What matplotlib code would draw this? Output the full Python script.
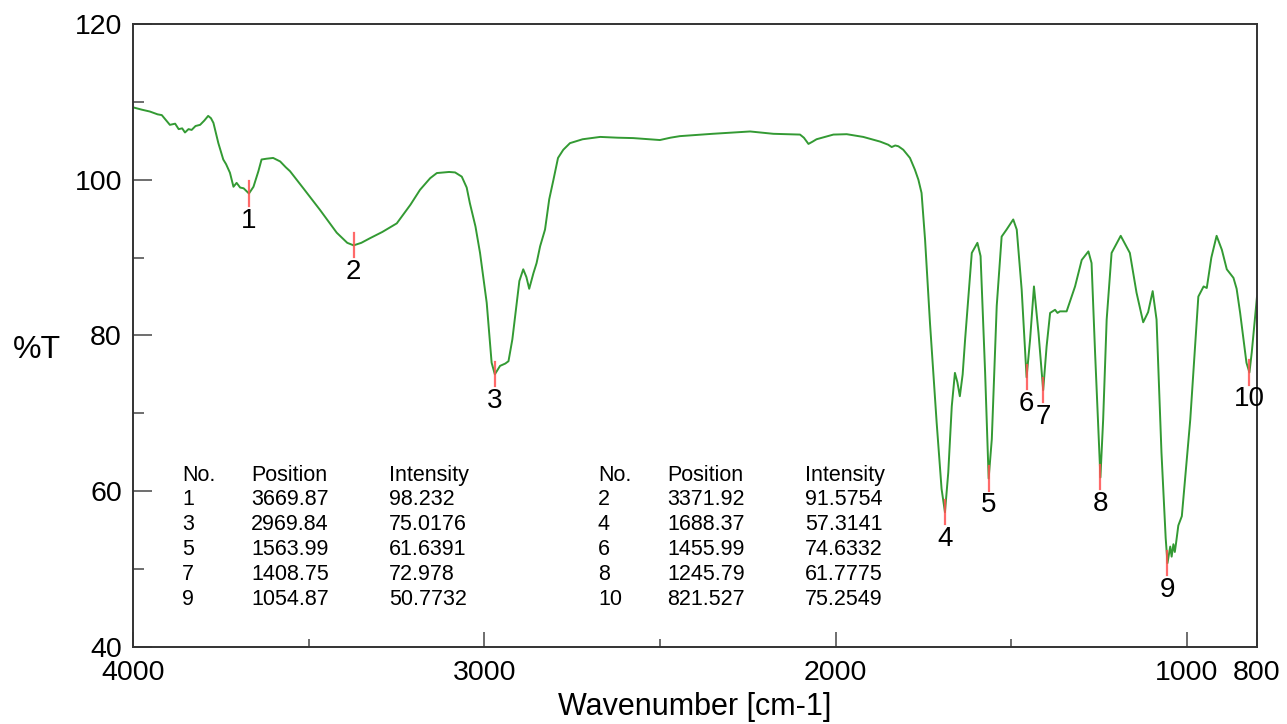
import numpy as np
import matplotlib
matplotlib.use('Agg')
import matplotlib.pyplot as plt
from matplotlib.ticker import MultipleLocator

plt.rcParams['font.family'] = ['Liberation Sans', 'DejaVu Sans']

# spectrum (wavenumber cm-1, %T)
wavenumber = [4000, 3975, 3952, 3930, 3918, 3905, 3895, 3880, 3870, 3860, 3852, 3842, 3833,
              3822, 3809, 3797, 3786, 3778, 3771, 3757, 3743, 3735, 3724, 3714, 3705, 3695,
              3685, 3669.87, 3657, 3643, 3634, 3620, 3601, 3581, 3565, 3553, 3515, 3468,
              3420, 3390, 3371.92, 3350, 3325, 3290, 3249, 3210, 3183, 3154, 3135, 3100,
              3083, 3064, 3050, 3041, 3025, 3012, 2993, 2979, 2969.84, 2955, 2940, 2931,
              2920, 2912, 2900, 2889, 2880, 2872, 2860, 2851, 2841, 2827, 2815, 2803, 2790,
              2775, 2756, 2720, 2670, 2620, 2576, 2530, 2500, 2470, 2443, 2350, 2243, 2177,
              2101, 2090, 2077, 2065, 2054, 2006, 1968, 1921, 1873, 1850, 1840, 1830, 1821,
              1807, 1788, 1774, 1764, 1755, 1745, 1731, 1712, 1698, 1688.37, 1679, 1669,
              1660, 1653, 1646, 1638, 1631, 1612, 1596, 1587, 1574, 1563.99, 1555, 1541,
              1527, 1513, 1494, 1484, 1470, 1455.99, 1446, 1435, 1422, 1408.75, 1399, 1389,
              1375, 1368, 1361, 1342, 1318, 1299, 1280, 1271, 1261, 1245.79, 1238, 1228,
              1214, 1188, 1162, 1143, 1124, 1110, 1097, 1086, 1072, 1060, 1054.87, 1051,
              1047, 1043, 1038, 1034, 1030, 1024, 1014, 990, 967, 952, 943, 930, 915, 900,
              886, 867, 858, 848, 830, 821.527, 815, 800]
transmittance = [109.3, 109.0, 108.76, 108.4, 108.3, 107.6, 107.05, 107.2, 106.5, 106.6, 106.07,
                 106.5, 106.4, 106.9, 107.05, 107.6, 108.2, 107.9, 107.3, 104.7, 102.6, 102.0,
                 100.9, 99.1, 99.6, 99.0, 98.9, 98.232, 99.1, 101.1, 102.6, 102.7, 102.8, 102.35,
                 101.6, 101.1, 98.9, 96.15, 93.2, 91.9, 91.5754, 91.9, 92.5, 93.3, 94.4, 96.8,
                 98.7, 100.2, 100.86, 101.0, 100.94, 100.4, 99.0, 97.0, 94.0, 90.6, 84.2, 76.5,
                 75.0176, 76.1, 76.4, 76.7, 79.5, 82.5, 87.0, 88.5, 87.5, 86.0, 88.0, 89.3,
                 91.45, 93.6, 97.5, 100.0, 102.8, 103.85, 104.7, 105.2, 105.5, 105.4, 105.35,
                 105.2, 105.1, 105.4, 105.6, 105.9, 106.2, 105.9, 105.8, 105.4, 104.6, 104.9,
                 105.2, 105.8, 105.85, 105.5, 104.9, 104.5, 104.2, 104.4, 104.3, 103.85, 102.8,
                 101.3, 100.0, 98.3, 92.3, 81.6, 68.8, 60.3, 57.3141, 62.4, 70.9, 75.2, 74.0,
                 72.2, 75.0, 79.5, 90.6, 91.9, 90.2, 75.2, 61.6391, 66.7, 83.8, 92.7, 93.6,
                 94.9, 93.6, 85.9, 74.6332, 79.5, 86.3, 80.3, 72.978, 78.6, 82.9, 83.3, 82.9,
                 83.1, 83.1, 86.3, 89.7, 90.8, 89.3, 77.8, 61.7775, 69.2, 82.05, 90.6, 92.8,
                 90.6, 85.5, 81.7, 83.0, 85.7, 82.05, 65.0, 54.0, 50.7732, 51.8, 52.9, 51.6,
                 53.2, 52.2, 53.5, 55.6, 56.8, 69.2, 85.0, 86.3, 86.1, 90.0, 92.8, 91.0, 88.5,
                 87.4, 86.0, 82.9, 76.5, 75.2549, 77.8, 85.0]

# peak table
peak_no = [1, 2, 3, 4, 5, 6, 7, 8, 9, 10]
peak_pos = [3669.87, 3371.92, 2969.84, 1688.37, 1563.99, 1455.99, 1408.75, 1245.79, 1054.87, 821.527]
peak_int = [98.232, 91.5754, 75.0176, 57.3141, 61.6391, 74.6332, 72.978, 61.7775, 50.7732, 75.2549]


def drawSpectrum():
	fig = plt.figure(figsize=(12.87, 7.24), dpi=100)
	ax = fig.add_axes([133/1287, 1-647/724, 1124/1287, 623/724])

	ax.plot(wavenumber, transmittance, color='#339a33', lw=1.4)

	# peak markers and numbers
	for n, p, t in zip(peak_no, peak_pos, peak_int):
		ax.plot([p, p], [t+1.55, t-1.55], color='#ff5050', lw=1.6, alpha=0.85)
		ax.annotate(str(n), (p, t), xytext=(0, -27), textcoords='offset pixels',
			ha='center', va='center', fontsize=20)

	# table of peaks, two per row
	cols = [0.0436, 0.105, 0.2278, 0.4137, 0.4751, 0.5979]
	heads = ['No.', 'Position', 'Intensity']
	fs = 15.5
	for k in range(3):
		ax.text(cols[k], 0.276, heads[k], transform=ax.transAxes, fontsize=fs, va='center')
		ax.text(cols[k+3], 0.276, heads[k], transform=ax.transAxes, fontsize=fs, va='center')
	for i in range(len(peak_no)):
		row = i // 2
		c = 0 if i % 2 == 0 else 3
		y = 0.236 - row*0.0401
		vals = [str(peak_no[i]), f'{peak_pos[i]:.6g}', f'{peak_int[i]:.6g}']
		for k in range(3):
			ax.text(cols[c+k], y, vals[k], transform=ax.transAxes, fontsize=fs, va='center')

	ax.set_xlim(4000, 800)
	ax.set_ylim(40, 120)
	ax.set_xticks([4000, 3000, 2000, 1000, 800])
	ax.xaxis.set_minor_locator(plt.FixedLocator([3500, 2500, 1500]))
	ax.yaxis.set_major_locator(MultipleLocator(20))
	ax.yaxis.set_minor_locator(MultipleLocator(10))
	ax.tick_params(axis='y', which='major', direction='in', length=13.7, width=1.2,
		color='#555555', labelsize=20.5, pad=8)
	ax.tick_params(axis='y', which='minor', direction='in', length=7.9, width=1.2, color='#555555')
	ax.tick_params(axis='x', which='major', direction='in', length=10.8, width=1.2,
		color='#555555', labelsize=20.5, pad=9)
	ax.tick_params(axis='x', which='minor', direction='in', length=5.8, width=1.2, color='#555555')

	for s in ax.spines.values():
		s.set_color('#333333')
		s.set_linewidth(1.4)

	ax.set_xlabel('Wavenumber [cm-1]', fontsize=22, labelpad=5)
	fig.text(13/1287, 1-350/724, '%T', fontsize=23, ha='left', va='center')

	fig.savefig('out.png', dpi=100)


if __name__ == '__main__':
	drawSpectrum()
